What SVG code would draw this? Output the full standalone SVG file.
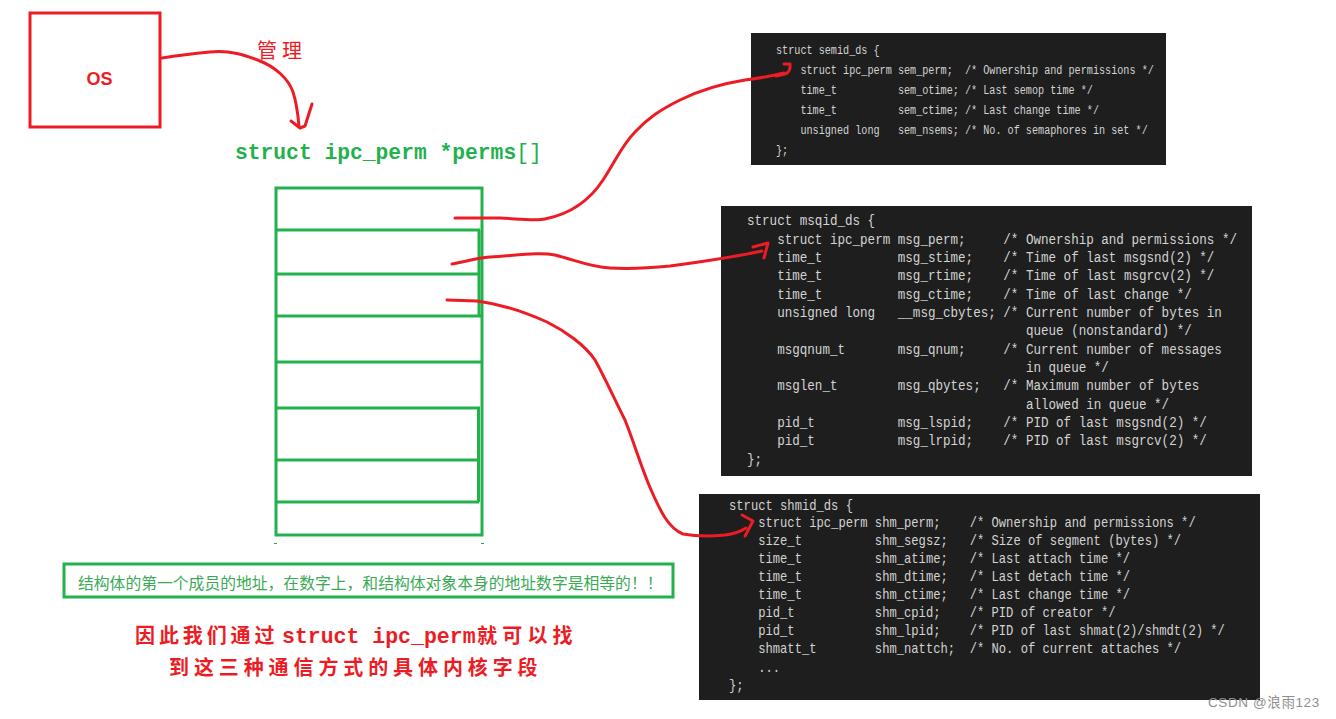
<svg xmlns="http://www.w3.org/2000/svg" width="1336" height="719" viewBox="0 0 1336 719">
<style>
.code{font-family:"Liberation Mono",monospace;fill:#d4d4d4;}
.red{stroke:#ed1c24;stroke-width:3;fill:none;stroke-linecap:round;stroke-linejoin:round;}
.grn{stroke:#22b14c;stroke-width:3;fill:none;}
.cjk{font-family:"Noto Sans CJK SC","Noto Sans",sans-serif;}
</style>
<rect width="1336" height="719" fill="#ffffff"/>

<g id="os">
<rect x="30" y="13" width="130" height="114" fill="#ffffff" stroke="#ed1c24" stroke-width="3"/>
<text x="99.5" y="85" text-anchor="middle" font-family="Liberation Sans, sans-serif" font-weight="bold" font-size="18" fill="#ed1c24">OS</text>
</g>

<g id="manage-label">
<text x="257" y="58" class="cjk" font-size="20" letter-spacing="5" fill="#ed1c24">管理</text>
</g>

<g id="perms-label">
<text x="235" y="159" font-family="Liberation Mono, monospace" font-weight="bold" font-size="21.3" fill="#22b14c">struct ipc_perm *perms<tspan font-weight="normal">[]</tspan></text>
</g>

<g id="perms-array">
<rect class="grn" x="276" y="188" width="206" height="347"/>
<line class="grn" x1="276" y1="230" x2="480" y2="230"/>
<line class="grn" x1="276" y1="274" x2="478" y2="274"/>
<line class="grn" x1="276" y1="316" x2="482" y2="316"/>
<line class="grn" x1="276" y1="362" x2="482" y2="362"/>
<line class="grn" x1="277" y1="408" x2="480" y2="408"/>
<line class="grn" x1="277" y1="460" x2="480" y2="460"/>
<line class="grn" x1="277" y1="502" x2="479" y2="502"/>
<line class="grn" x1="479" y1="230" x2="479" y2="316"/>
<line class="grn" x1="478.5" y1="408" x2="478.5" y2="502"/>
<line x1="274" y1="543.5" x2="277" y2="543.5" stroke="#22b14c" stroke-width="1"/>
<line x1="481" y1="543.5" x2="484" y2="543.5" stroke="#22b14c" stroke-width="1"/>
</g>

<g id="semid">
<rect x="751" y="33" width="415" height="132" fill="#1e1e1e"/>
<g transform="translate(776,0) scale(0.753,1)" class="code" font-size="13.5">
<text xml:space="preserve" x="0" y="54">struct semid_ds {</text>
<text xml:space="preserve" x="0" y="74">    struct ipc_perm sem_perm;  /* Ownership and permissions */</text>
<text xml:space="preserve" x="0" y="94">    time_t          sem_otime; /* Last semop time */</text>
<text xml:space="preserve" x="0" y="114">    time_t          sem_ctime; /* Last change time */</text>
<text xml:space="preserve" x="0" y="134">    unsigned long   sem_nsems; /* No. of semaphores in set */</text>
<text xml:space="preserve" x="0" y="154">};</text>
</g>
</g>

<g id="msqid">
<rect x="721" y="206" width="531" height="270" fill="#1e1e1e"/>
<g transform="translate(747,0) scale(0.8333,1)" class="code" font-size="15.1">
<text xml:space="preserve" x="0" y="225.3">struct msqid_ds {</text>
<text xml:space="preserve" x="0" y="243.6">    struct ipc_perm msg_perm;     /* Ownership and permissions */</text>
<text xml:space="preserve" x="0" y="262">    time_t          msg_stime;    /* Time of last msgsnd(2) */</text>
<text xml:space="preserve" x="0" y="280.3">    time_t          msg_rtime;    /* Time of last msgrcv(2) */</text>
<text xml:space="preserve" x="0" y="298.6">    time_t          msg_ctime;    /* Time of last change */</text>
<text xml:space="preserve" x="0" y="317">    unsigned long   __msg_cbytes; /* Current number of bytes in</text>
<text xml:space="preserve" x="0" y="335.3">                                     queue (nonstandard) */</text>
<text xml:space="preserve" x="0" y="353.6">    msgqnum_t       msg_qnum;     /* Current number of messages</text>
<text xml:space="preserve" x="0" y="372">                                     in queue */</text>
<text xml:space="preserve" x="0" y="390.3">    msglen_t        msg_qbytes;   /* Maximum number of bytes</text>
<text xml:space="preserve" x="0" y="408.6">                                     allowed in queue */</text>
<text xml:space="preserve" x="0" y="427">    pid_t           msg_lspid;    /* PID of last msgsnd(2) */</text>
<text xml:space="preserve" x="0" y="445.3">    pid_t           msg_lrpid;    /* PID of last msgrcv(2) */</text>
<text xml:space="preserve" x="0" y="463.6">};</text>
</g>
</g>

<g id="shmid">
<rect x="699" y="494" width="561" height="206" fill="#1e1e1e"/>
<g transform="translate(729,0) scale(0.8333,1)" class="code" font-size="14.6">
<text xml:space="preserve" x="0" y="510">struct shmid_ds {</text>
<text xml:space="preserve" x="0" y="527.5">    struct ipc_perm shm_perm;    /* Ownership and permissions */</text>
<text xml:space="preserve" x="0" y="545.3">    size_t          shm_segsz;   /* Size of segment (bytes) */</text>
<text xml:space="preserve" x="0" y="563">    time_t          shm_atime;   /* Last attach time */</text>
<text xml:space="preserve" x="0" y="581">    time_t          shm_dtime;   /* Last detach time */</text>
<text xml:space="preserve" x="0" y="599">    time_t          shm_ctime;   /* Last change time */</text>
<text xml:space="preserve" x="0" y="617">    pid_t           shm_cpid;    /* PID of creator */</text>
<text xml:space="preserve" x="0" y="635">    pid_t           shm_lpid;    /* PID of last shmat(2)/shmdt(2) */</text>
<text xml:space="preserve" x="0" y="653.3">    shmatt_t        shm_nattch;  /* No. of current attaches */</text>
<text xml:space="preserve" x="0" y="672">    ...</text>
<text xml:space="preserve" x="0" y="690">};</text>
</g>
</g>

<g id="note">
<rect x="64" y="564" width="609" height="33" fill="#ffffff" stroke="#22b14c" stroke-width="3"/>
<text x="78" y="589" class="cjk" font-size="15.8" fill="#3aaa55">结构体的第一个成员的地址，在数字上，和结构体对象本身的地址数字是相等的！！</text>
</g>

<g id="conclusion" fill="#ed1c24" font-weight="bold">
<text y="643"><tspan x="135" class="cjk" font-size="20" letter-spacing="3.9">因此我们通过</tspan><tspan x="282" font-family="Liberation Mono, monospace" font-size="21.5">struct ipc_perm</tspan><tspan x="477" class="cjk" font-size="20" letter-spacing="5.2">就可以找</tspan></text>
<text x="169" y="675" class="cjk" font-size="20" letter-spacing="4.9">到这三种通信方式的具体内核字段</text>
</g>

<g id="watermark">
<text x="1208" y="707" font-family="Liberation Sans, Noto Sans CJK SC, sans-serif" font-size="13.5" letter-spacing="0.6" fill="#8f8f8f">CSDN @浪雨123</text>
</g>

<g id="connectors">
<path class="red" d="M162,58 C175,56 190,54 210,52 C230,50 245,55 260,61 C275,67 288,78 293,92 C297,104 298,115 299,126"/>
<polyline class="red" points="291,121 300,128 305,126 312,104"/>
<path class="red" d="M455,218 L500,218 C520,219 535,221 545,219 C570,214 590,200 603,180 C615,162 622,145 635,132 C648,118 660,110 680,100 C700,90 720,84 745,80 C760,78 772,76 784,73"/>
<path class="red" d="M776,76 L785,74 Q791,72 790,64 L784,64"/>
<path class="red" d="M452,264 C465,262 475,258 490,257 C520,255 540,252 555,255 C575,260 590,267 610,268 C630,269 650,268 670,266 C700,262 730,258 762,251"/>
<polyline class="red" points="753,247 768,243 764,258"/>
<path class="red" d="M447,300 L477,301 C500,304 525,312 547,322 C565,331 585,345 595,360 C605,378 615,400 625,420 C635,445 642,470 652,492 C660,510 668,528 683,534 C700,537 715,536 725,535 C733,534 740,532 746,528"/>
<polyline class="red" points="742,515 753,521 745,536"/>
</g>
</svg>
